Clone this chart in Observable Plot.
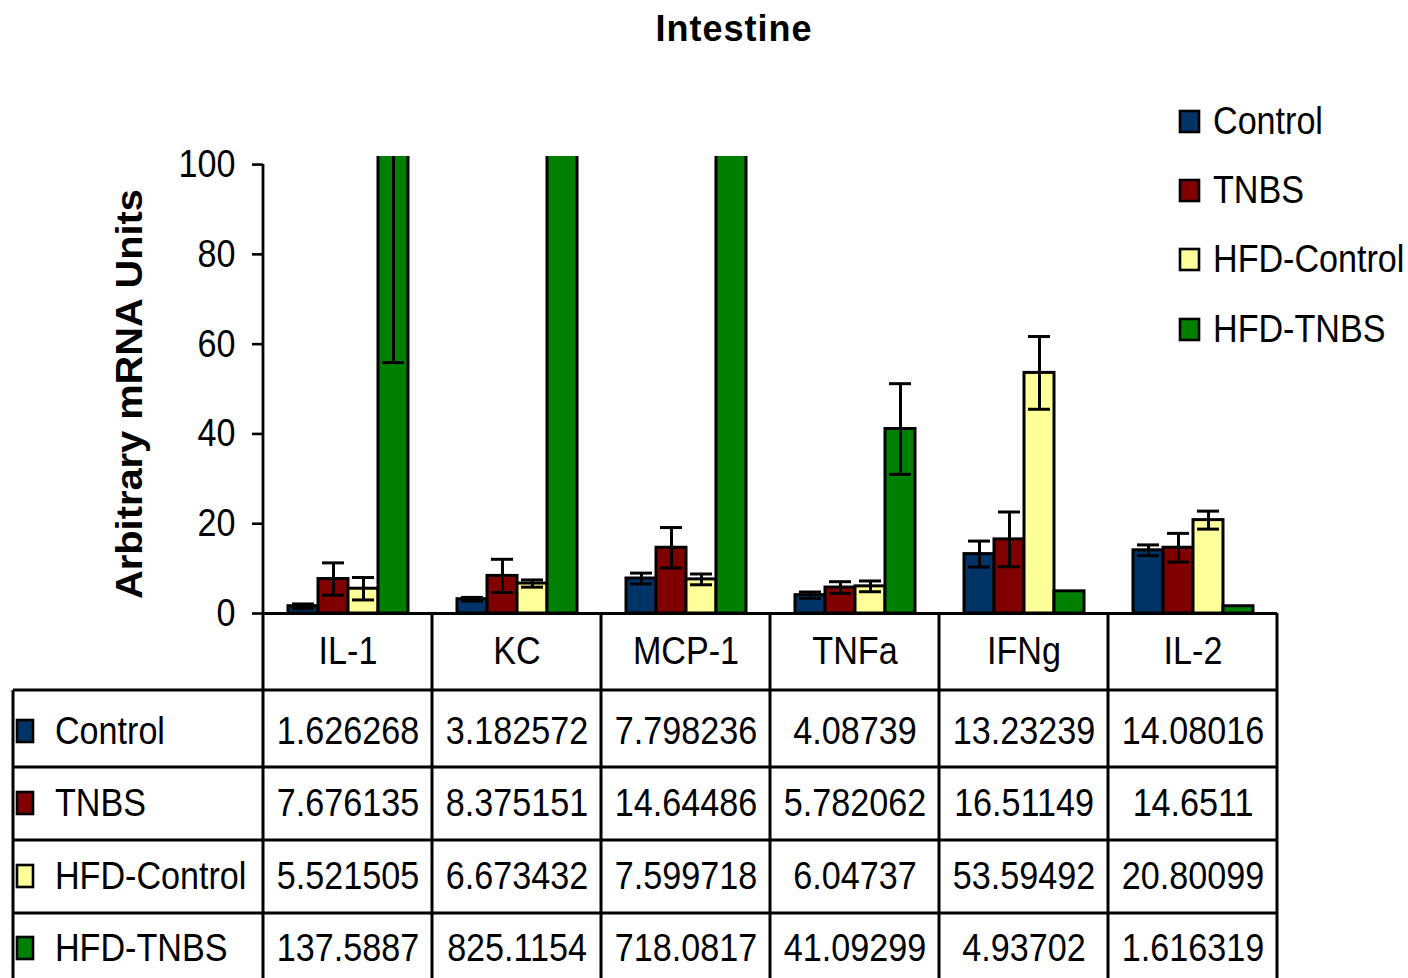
<!DOCTYPE html>
<html><head><meta charset="utf-8">
<script src="https://cdn.jsdelivr.net/npm/d3@7"></script>
<script src="https://cdn.jsdelivr.net/npm/@observablehq/plot@0.6"></script>
<style>
body{margin:0;background:#fff;overflow:hidden;font-family:"Liberation Sans",Arial,sans-serif;}
#wrap{position:relative;width:1408px;height:978px;overflow:hidden;}
#title{position:absolute;left:534px;width:400px;top:11px;line-height:36px;text-align:center;font-weight:bold;font-size:36px;letter-spacing:1px;color:#000;}
#chart{position:absolute;left:0;top:0;}
</style></head><body>
<div id="wrap"><div id="chart"></div><div id="title">Intestine</div></div>
<script>
const categories = ["IL-1","KC","MCP-1","TNFa","IFNg","IL-2"];
const seriesNames = ["Control","TNBS","HFD-Control","HFD-TNBS"];
const seriesColors = ["#003366","#800000","#FFFF99","#008000"];
const control = [1.626268,3.182572,7.798236,4.08739,13.23239,14.08016];
const tnbs = [7.676135,8.375151,14.64486,5.782062,16.51149,14.6511];
const hfdControl = [5.521505,6.673432,7.599718,6.04737,53.59492,20.80099];
const hfdTnbs = [137.5887,825.1154,718.0817,41.09299,4.93702,1.616319];
const controlErr = [0.5,0.4,1.2,0.7,2.9,1.2];
const tnbsErr = [3.6,3.7,4.5,1.3,6.1,3.2];
const hfdControlErr = [2.5,0.8,1.2,1.2,8.1,2.0];
const hfdTnbsErr = [81.7,350,300,10.1,0,0];
const yTicks = [0,20,40,60,80,100];
const yLabel = "Arbitrary mRNA Units";

const FONT = '"Liberation Sans", Arial, sans-serif';
const valuesBySeries = [control, tnbs, hfdControl, hfdTnbs];
const errBySeries = [controlErr, tnbsErr, hfdControlErr, hfdTnbsErr];
const rows = [];
seriesNames.forEach((s, i) => categories.forEach((c, j) => {
  rows.push({category: c, series: s, value: valuesBySeries[i][j], err: errBySeries[i][j]});
}));
const errRows = rows.filter(d => d.err > 0);

const W = 1408, H = 990;
const mL = 263, mR = 131, mT = 156, mB = 377;
const baseY = H - mB; // 613
const headerCenter = 651;
const rowCenters = [731, 803, 876, 948];
const rowLines = [690, 767, 840, 913, 986];

const plot = Plot.plot({
  width: W, height: H,
  marginLeft: mL, marginRight: mR, marginTop: mT, marginBottom: mB,
  style: {fontFamily: FONT, fontSize: "35px", color: "#000", background: "transparent", overflow: "visible"},
  fx: {domain: categories, padding: 0, axis: null},
  x: {domain: seriesNames, paddingInner: 0, paddingOuter: 0.77, axis: null},
  y: {domain: [0, 101.8], axis: null},
  color: {domain: seriesNames, range: seriesColors},
  marks: [
    Plot.barY(rows, {fx: "category", x: "series", y: "value", fill: "series", stroke: "#000", strokeWidth: 3, clip: true}),
    Plot.ruleX(errRows, {fx: "category", x: "series", y1: d => d.value - d.err, y2: d => d.value + d.err, stroke: "#000", strokeWidth: 3, clip: true}),
    Plot.tickY(errRows, {fx: "category", x: "series", y: d => d.value + d.err, insetLeft: 4, insetRight: 4, stroke: "#000", strokeWidth: 3, clip: true}),
    Plot.tickY(errRows, {fx: "category", x: "series", y: d => d.value - d.err, insetLeft: 4, insetRight: 4, stroke: "#000", strokeWidth: 3, clip: true}),
    Plot.ruleY([0], {stroke: "#000", strokeWidth: 3}),
    Plot.axisY({ticks: yTicks, tickSize: 11, tickPadding: 17, stroke: "#000", strokeWidth: 2.6, fontSize: 35, label: null}),
    Plot.text(categories, {fx: d => d, text: d => d, frameAnchor: "bottom", lineAnchor: "middle", dy: headerCenter - baseY, fontSize: 35, fill: "#000"}),
    ...seriesNames.map((s, i) => Plot.text(rows.filter(d => d.series === s), {
      fx: "category", text: d => String(d.value), frameAnchor: "bottom", lineAnchor: "middle",
      dy: rowCenters[i] - baseY, fontSize: 35, fill: "#000"
    }))
  ]
});
document.getElementById("chart").appendChild(plot);

// Table grid, axis line, legends (positioned from Plot's own scales)
const svg = d3.select(plot);
const fxs = plot.scale("fx");
const ys = plot.scale("y");
const yAt = v => ys.apply ? ys.apply(v) : baseY - (v / 101.8) * (baseY - mT);
const step = (W - mL - mR) / categories.length;
const fxAt = c => (fxs.apply ? fxs.apply(c) : mL + categories.indexOf(c) * step);
const bounds = categories.map(fxAt);
const bw = fxs.bandwidth || step;
bounds.push(bounds[bounds.length - 1] + bw);
const leftX = 13;
const g = svg.append("g").attr("stroke", "#000").attr("fill", "none");
// y axis line
g.append("line").attr("x1", bounds[0]).attr("x2", bounds[0]).attr("y1", yAt(100)).attr("y2", baseY).attr("stroke-width", 2.8);
// table verticals
bounds.forEach(xb => g.append("line").attr("x1", xb).attr("x2", xb).attr("y1", baseY).attr("y2", H).attr("stroke-width", 3));
g.append("line").attr("x1", leftX).attr("x2", leftX).attr("y1", rowLines[0]).attr("y2", H).attr("stroke-width", 3);
// table horizontals
rowLines.forEach(yy => g.append("line").attr("x1", leftX).attr("x2", bounds[bounds.length - 1]).attr("y1", yy).attr("y2", yy).attr("stroke-width", 3));

// row legend keys
const lg = svg.append("g").attr("font-family", FONT).attr("font-size", 35).attr("text-anchor", "start").attr("fill", "#000");
seriesNames.forEach((s, i) => {
  lg.append("rect").attr("x", 17).attr("y", rowCenters[i] - 11).attr("width", 16).attr("height", 22)
    .attr("fill", seriesColors[i]).attr("stroke", "#000").attr("stroke-width", 2.6);
  lg.append("text").attr("x", 55).attr("y", rowCenters[i]).attr("dy", "0.35em").attr("text-anchor", "start").text(s);
});
// top-right legend
const legCenters = [121, 190, 259, 329];
seriesNames.forEach((s, i) => {
  lg.append("rect").attr("x", 1180).attr("y", legCenters[i] - 10).attr("width", 19).attr("height", 21)
    .attr("fill", seriesColors[i]).attr("stroke", "#000").attr("stroke-width", 2.6);
  lg.append("text").attr("x", 1213).attr("y", legCenters[i]).attr("dy", "0.35em").attr("text-anchor", "start").text(s);
});

// slight vertical stretch of the regular texts, like the reference's narrow tall glyphs
svg.selectAll("text").each(function() {
  const b = this.getBBox();
  const anchor = getComputedStyle(this).textAnchor;
  const cx = anchor === "start" ? b.x : anchor === "end" ? b.x + b.width : b.x + b.width / 2;
  const cy = b.y + b.height / 2;
  const t = this.getAttribute("transform") || "";
  this.setAttribute("transform", `${t} translate(${cx},${cy}) scale(0.975,1.1) translate(${-cx},${-cy})`.trim());
});

// y axis title
svg.append("text").attr("transform", `translate(129,${(188 + 600) / 2}) rotate(-90)`)
  .attr("text-anchor", "middle").attr("dy", "0.35em").attr("fill", "#000")
  .attr("font-family", FONT).attr("font-weight", "bold").attr("font-size", 37)
  .attr("textLength", 410).attr("lengthAdjust", "spacingAndGlyphs")
  .text(yLabel);
</script>
</body></html>
